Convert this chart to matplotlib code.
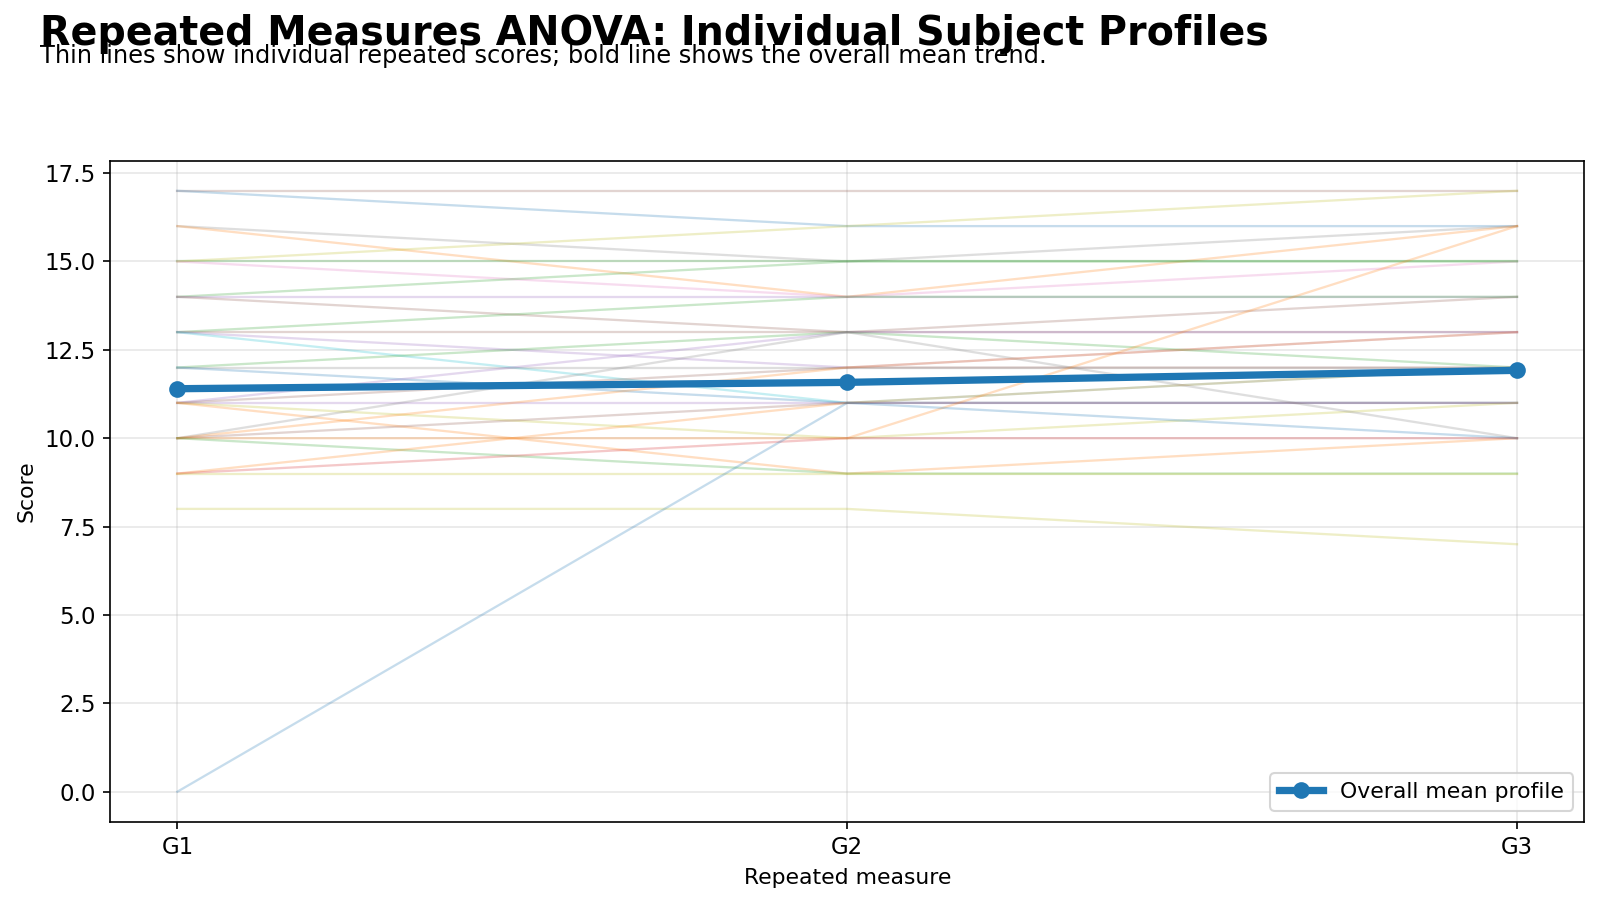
"""
Repeated measures ANOVA - spaghetti plot of individual subject profiles
"""
import matplotlib
matplotlib.use("Agg")
import matplotlib.pyplot as plt

conditions = ["G1", "G2", "G3"]

# one score per subject and condition
scores_g1 = [17, 17, 16, 16, 15, 15, 15, 14, 14, 14, 13, 13, 13, 13, 12, 12,
             12, 11, 11, 11, 11, 11, 10, 10, 10, 10, 10, 9, 9, 9, 8, 0]
scores_g2 = [17, 16, 15, 14, 15, 16, 14, 15, 14, 13, 14, 13, 12, 11, 13, 12,
             11, 13, 12, 11, 10, 9, 13, 12, 11, 10, 9, 11, 10, 9, 8, 11]
scores_g3 = [17, 16, 16, 16, 15, 17, 15, 15, 14, 14, 14, 13, 13, 12, 12, 12,
             11, 13, 12, 11, 11, 10, 10, 13, 11, 16, 9, 12, 10, 9, 7, 10]

# overall mean profile as drawn in the chart
mean_profile = [11.4, 11.58, 11.92]

# tab10 colour index for each subject line
subject_colors = [5, 0, 7, 1, 2, 8, 6, 2, 4, 5, 2, 5, 4, 9, 2, 7,
                  0, 4, 5, 4, 8, 1, 7, 1, 5, 1, 2, 1, 3, 8, 8, 0]

fig, ax = plt.subplots(figsize=(16 / 1.5, 9.08 / 1.5), dpi=150)
fig.subplots_adjust(left=0.069, right=0.99, top=0.823, bottom=0.095)

x = list(range(len(conditions)))
palette = plt.get_cmap("tab10").colors
for i in range(len(scores_g1)):
    ax.plot(x, [scores_g1[i], scores_g2[i], scores_g3[i]],
            color=palette[subject_colors[i]], alpha=0.25, linewidth=1.1)

ax.plot(x, mean_profile, color="#1f77b4", linewidth=3.5, marker="o",
        markersize=7, label="Overall mean profile", zorder=5)

ax.set_xticks(x)
ax.set_xticklabels(conditions)
ax.set_xlabel("Repeated measure", fontsize=10.5)
ax.set_ylabel("Score", fontsize=10.5)
ax.tick_params(labelsize=11)
ax.grid(True, alpha=0.3)
ax.legend(loc="lower right", fontsize=10.5)

fig.text(0.025, 0.963, "Repeated Measures ANOVA: Individual Subject Profiles",
         fontsize=19, fontweight="bold", va="center", ha="left")
fig.text(0.025, 0.938, "Thin lines show individual repeated scores; bold line shows the overall mean trend.",
         fontsize=11.6, va="center", ha="left")

fig.savefig("out.png", dpi=150)
